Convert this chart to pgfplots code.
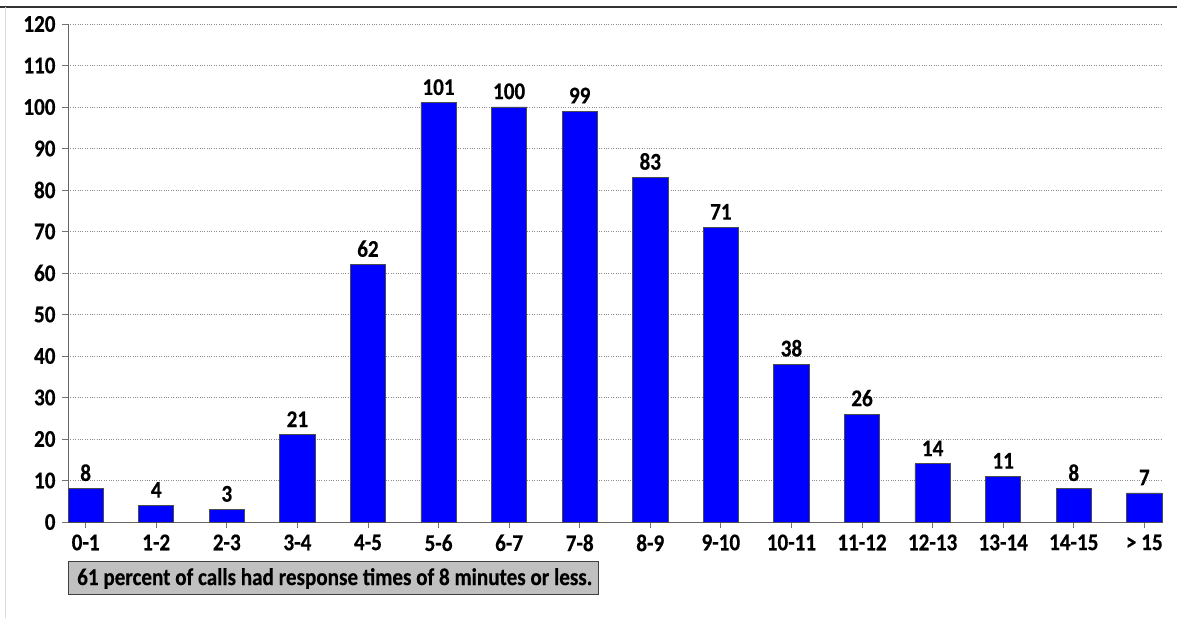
\documentclass[border=0pt]{standalone}
\usepackage{fontspec}
\setmainfont[FakeStretch=0.88, BoldFeatures={FakeBold=0.4}]{Carlito}
\usepackage{pgfplots}
\pgfplotsset{compat=1.18}
\usepackage{pgfplotstable}

\definecolor{barblue}{RGB}{0,0,255}
\definecolor{boxgray}{RGB}{192,192,192}

% response-time bins (minutes) and number of calls
\pgfplotstableread{
idx calls
0   8
1   4
2   3
3   21
4   62
5   101
6   100
7   99
8   83
9   71
10  38
11  26
12  14
13  11
14  8
15  7
}\calls

\newcommand{\lblfont}{\fontsize{24bp}{25bp}\selectfont\bfseries}

\begin{document}
\begin{tikzpicture}[x=1bp,y=1bp]
\path[use as bounding box] (0,0) rectangle (1177,618);
% frame lines
\draw[black!80, line width=2bp] (0,611) -- (1177,611);
\draw[black!15, line width=1bp] (5,611) -- (5,0);

\begin{axis}[
  at={(68bp,96bp)}, anchor=south west,
  scale only axis,
  width=1094bp, height=498bp,
  xmin=-0.25, xmax=15.25,
  ymin=0, ymax=120,
  ytick={0,10,...,120},
  xtick={0,...,15},
  xticklabels={0-1,1-2,2-3,3-4,4-5,5-6,6-7,7-8,8-9,9-10,10-11,11-12,12-13,13-14,14-15,> 15},
  axis x line*=bottom,
  axis y line*=left,
  axis line style={black!60, line width=0.9bp, -},
  ymajorgrids,
  grid style={black!45, dotted, line width=0.8bp},
  tick style={black!55, line width=0.8bp},
  tick align=outside,
  major tick length=6bp,
  /pgf/number format/assume math mode=true,
  ticklabel style={font=\lblfont},
  yticklabel style={xshift=-3bp},
  xticklabel style={yshift=-3bp},
  ybar,
  bar width=0.5,
  nodes near coords,
  every node near coord/.append style={font=\lblfont, black, yshift=4bp},
  clip=false,
]
\addplot[fill=barblue, draw=black!70, line width=0.8bp] table[x=idx, y=calls] {\calls};
\end{axis}

% note box under the axis
\draw[black!75, fill=boxgray, line width=1bp] (68,23) rectangle (598,56);
\node[anchor=west, inner sep=0pt, font=\lblfont] at (77,39.5)
  {61 percent of calls had response times of 8 minutes or less.};
\end{tikzpicture}
\end{document}
